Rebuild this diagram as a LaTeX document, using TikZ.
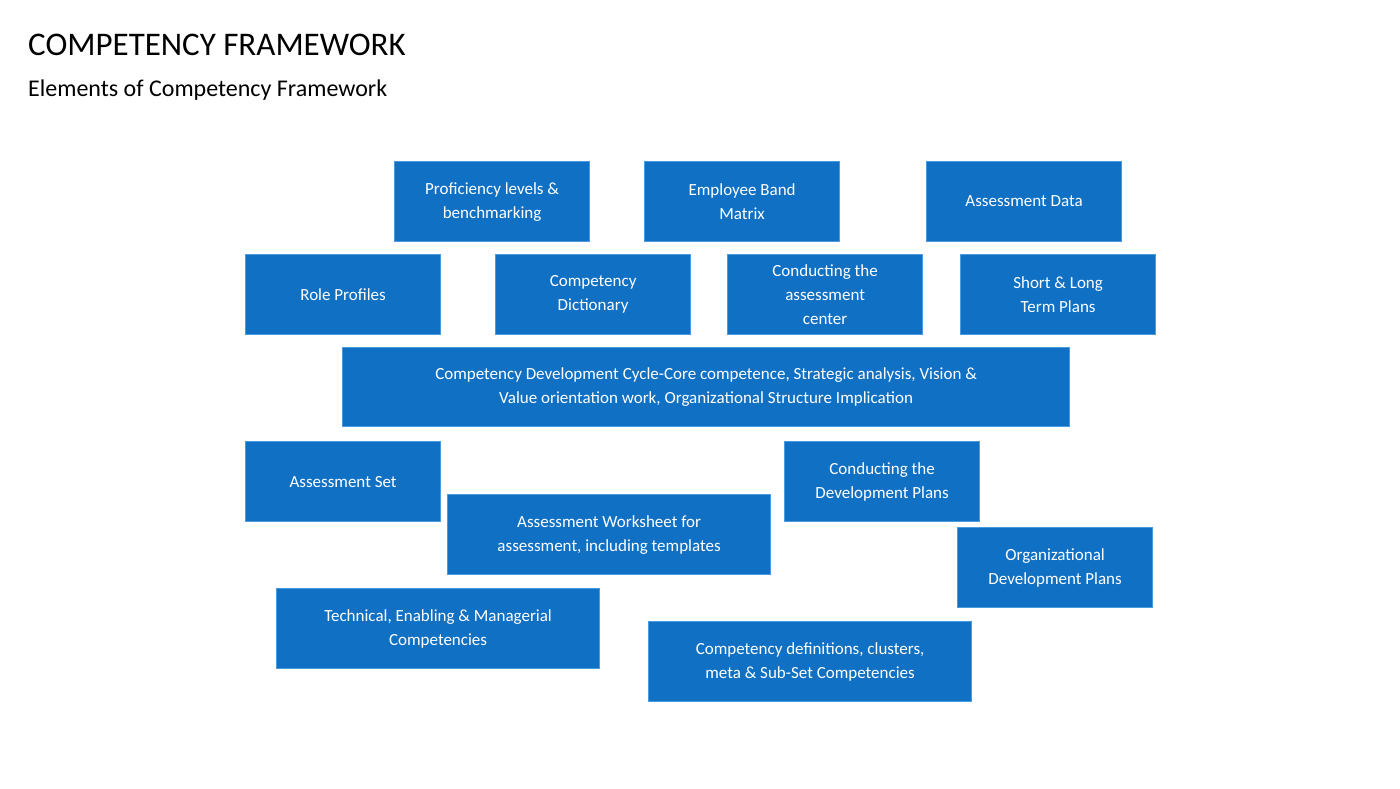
\documentclass[tikz,border=0pt]{standalone}
\usepackage{fontspec}
\setmainfont{Carlito}
\definecolor{boxfill}{HTML}{1070C4}
\definecolor{boxline}{HTML}{4A9AE0}
\begin{document}
\begin{tikzpicture}[x=1pt,y=-1pt,
  bx/.style={draw=boxline,line width=1.2pt,fill=boxfill,text=white,anchor=north west,inner sep=0pt,align=center,font=\fontsize{17}{24}\selectfont}]
\useasboundingbox (0,0) rectangle (1400,788);
\node[anchor=base west,inner sep=0pt,font=\fontsize{33}{36}\selectfont] (t) at (28,55) {COMPETENCY FRAMEWORK};
\node[anchor=base west,inner sep=0pt,font=\fontsize{24}{28}\selectfont] (s) at (28,96) {Elements of Competency Framework};
\newcommand{\bx}[6]{\node[bx,minimum width={#4-#2}, minimum height={#5-#3}] (#1) at (#2,#3) {#6};}
\bx{a}{394}{161}{589}{241}{Proficiency levels \&\\benchmarking}
\bx{b}{644}{161}{839}{241}{Employee Band\\Matrix}
\bx{c}{926}{161}{1121}{241}{Assessment Data}
\bx{d}{245}{254}{440}{334}{Role Profiles}
\bx{e}{495}{254}{690}{334}{Competency\\Dictionary}
\bx{f}{727}{254}{922}{334}{Conducting the\\assessment\\center}
\bx{g}{960}{254}{1155}{334}{Short \& Long\\Term Plans}
\bx{h}{342}{347}{1069}{426}{Competency Development Cycle-Core competence, Strategic analysis, Vision \&\\Value orientation work, Organizational Structure Implication}
\bx{i}{245}{441}{440}{521}{Assessment Set}
\bx{j}{784}{441}{979}{521}{Conducting the\\Development Plans}
\bx{k}{447}{494}{770}{574}{Assessment Worksheet for\\assessment, including templates}
\bx{l}{957}{527}{1152}{607}{Organizational\\Development Plans}
\bx{m}{276}{588}{599}{668}{Technical, Enabling \& Managerial\\Competencies}
\bx{n}{648}{621}{971}{701}{Competency definitions, clusters,\\meta \& Sub-Set Competencies}
\end{tikzpicture}
\end{document}
